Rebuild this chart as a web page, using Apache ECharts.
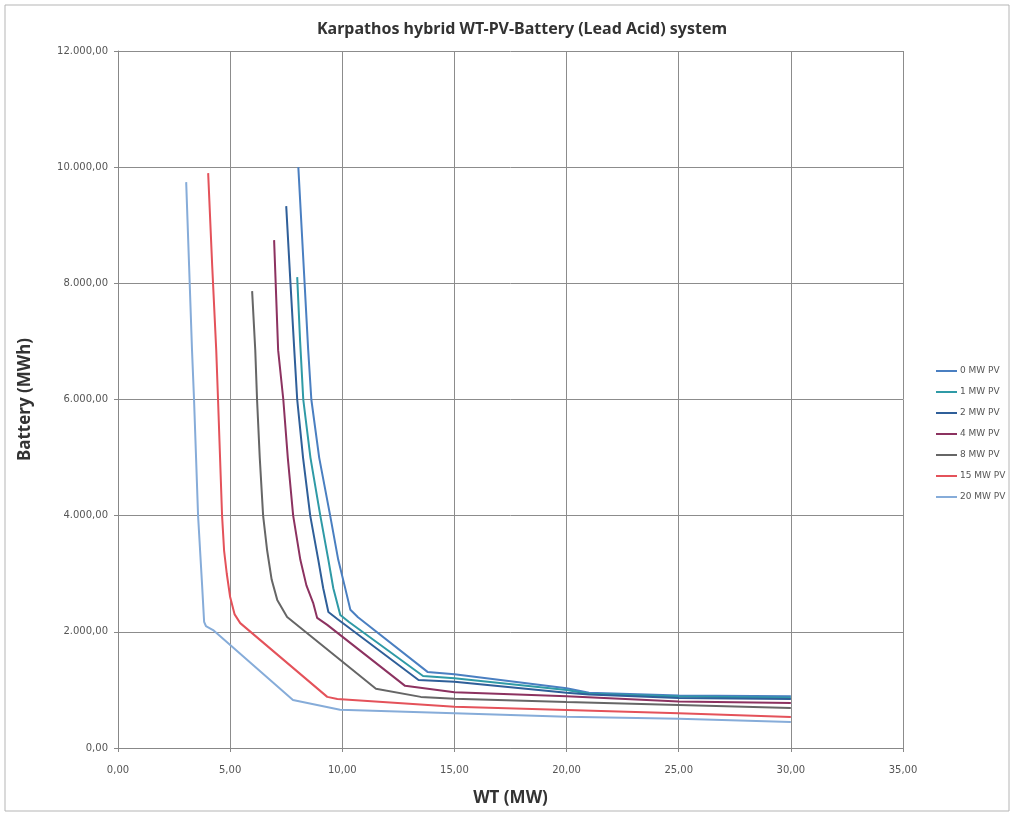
<!DOCTYPE html>
<html>
<head>
<meta charset="utf-8">
<script src="https://cdn.jsdelivr.net/npm/echarts@6/dist/echarts.min.js"></script>
<style>
  html, body { margin: 0; padding: 0; background: #fff; }
  #chart { width: 1014px; height: 816px; }
</style>
</head>
<body>
<div id="chart"></div>
<script>
// series names (legend order)
const seriesNames = ['0 MW PV', '1 MW PV', '2 MW PV', '4 MW PV', '8 MW PV', '15 MW PV', '20 MW PV']

// [WT (MW), Battery (MWh)]
const pv0 = [[8.04, 10000], [8.32, 8000], [8.48, 6850], [8.62, 6000], [8.97, 5000], [9.46, 4000], [9.82, 3240], [10.1, 2800], [10.36, 2380], [10.7, 2250], [13.8, 1310], [15, 1270], [20, 1030], [21, 950], [25, 905], [30, 890]]
const pv1 = [[7.99, 8107], [8.12, 7000], [8.26, 6000], [8.58, 5000], [9.02, 4000], [9.38, 3240], [9.6, 2750], [9.91, 2290], [10.3, 2170], [13.6, 1240], [15, 1200], [20, 1000], [21, 935], [25, 885], [30, 865]]
const pv2 = [[7.5, 9329], [7.69, 8000], [7.86, 6850], [7.99, 6000], [8.25, 5000], [8.57, 4000], [8.93, 3240], [9.15, 2750], [9.38, 2340], [9.78, 2220], [13.4, 1170], [15, 1140], [20, 950], [21, 920], [25, 860], [30, 845]]
const pv4 = [[6.96, 8744], [7.14, 6850], [7.37, 6000], [7.57, 5000], [7.81, 4000], [8.13, 3240], [8.4, 2800], [8.7, 2500], [8.88, 2240], [9.33, 2120], [12.8, 1070], [15, 960], [20, 890], [25, 800], [30, 775]]
const pv8 = [[5.98, 7866], [6.12, 6850], [6.2, 6000], [6.32, 5000], [6.47, 4000], [6.65, 3400], [6.85, 2900], [7.1, 2550], [7.54, 2255], [11.5, 1020], [13.5, 880], [15, 850], [20, 790], [25, 740], [30, 690]]
const pv15 = [[4.02, 9897], [4.2, 8300], [4.38, 6850], [4.46, 6000], [4.55, 5000], [4.64, 4000], [4.73, 3400], [4.85, 3000], [5.0, 2600], [5.2, 2300], [5.45, 2150], [9.33, 880], [9.78, 843], [15, 710], [20, 655], [25, 600], [30, 535]]
const pv20 = [[3.04, 9742], [3.17, 8300], [3.3, 6850], [3.39, 6000], [3.48, 5000], [3.57, 4000], [3.66, 3400], [3.75, 2800], [3.84, 2170], [3.92, 2100], [4.24, 2030], [7.8, 826], [9.9, 660], [15, 600], [20, 540], [25, 505], [30, 447]]

const seriesData = [pv0, pv1, pv2, pv4, pv8, pv15, pv20]
const colors = ['#4a7fc1', '#2f9aa6', '#2f5f99', '#8c3260', '#666666', '#e4525a', '#86acd9']

// 12000 -> 12.000,00
function fmt(v) {
  const s = v.toFixed(2).split('.')
  return s[0].replace(/\B(?=(\d{3})+(?!\d))/g, '.') + ',' + s[1]
}

const chart = echarts.init(document.getElementById('chart'))

let series = seriesData.map((d, i) => ({
  name: seriesNames[i],
  type: 'line',
  data: d,
  symbol: 'none',
  lineStyle: { width: 2, color: colors[i] },
  itemStyle: { color: colors[i] }
}))

chart.setOption({
  color: colors,
  animation: false,
  textStyle: { fontFamily: 'DejaVu Sans' },
  title: {
    text: 'Karpathos hybrid WT-PV-Battery (Lead Acid) system',
    left: 312,
    top: 16,
    textStyle: { fontFamily: 'Noto Sans', fontSize: 16, fontWeight: 'bold', color: '#333' }
  },
  graphic: [{
    type: 'rect',
    shape: { x: 5, y: 5, width: 1004, height: 806 },
    style: { fill: 'none', stroke: '#b5b5b5', lineWidth: 1 },
    silent: true
  }],
  legend: {
    orient: 'vertical',
    left: 931,
    top: 360,
    icon: 'rect',
    itemWidth: 21,
    itemHeight: 2,
    itemGap: 9,
    textStyle: { fontFamily: 'DejaVu Sans', fontSize: 9, color: '#555', lineHeight: 12, padding: [0, 0, 0, -2] },
    data: seriesNames
  },
  grid: { left: 118, right: 111, top: 51, bottom: 68 },
  xAxis: {
    type: 'value',
    min: 0,
    max: 35,
    interval: 5,
    name: 'WT (MW)',
    nameLocation: 'middle',
    nameGap: 42,
    nameTextStyle: { fontFamily: 'Noto Sans', fontSize: 17, fontWeight: 'bold', color: '#333' },
    axisLine: { lineStyle: { color: '#888' } },
    axisTick: { show: true, length: 4, lineStyle: { color: '#888' } },
    axisLabel: { formatter: fmt, color: '#555', fontSize: 10, margin: 17 },
    splitLine: { lineStyle: { color: '#8c8c8c' } }
  },
  yAxis: {
    type: 'value',
    min: 0,
    max: 12000,
    interval: 2000,
    name: 'Battery (MWh)',
    nameLocation: 'middle',
    nameGap: 84,
    nameTextStyle: { fontFamily: 'Noto Sans', fontSize: 17, fontWeight: 'bold', color: '#333' },
    axisLine: { show: true, lineStyle: { color: '#888' } },
    axisTick: { show: true, length: 4, lineStyle: { color: '#888' } },
    axisLabel: { formatter: fmt, color: '#555', fontSize: 10, margin: 10 },
    splitLine: { lineStyle: { color: '#8c8c8c' } }
  },
  series
})
</script>
</body>
</html>
